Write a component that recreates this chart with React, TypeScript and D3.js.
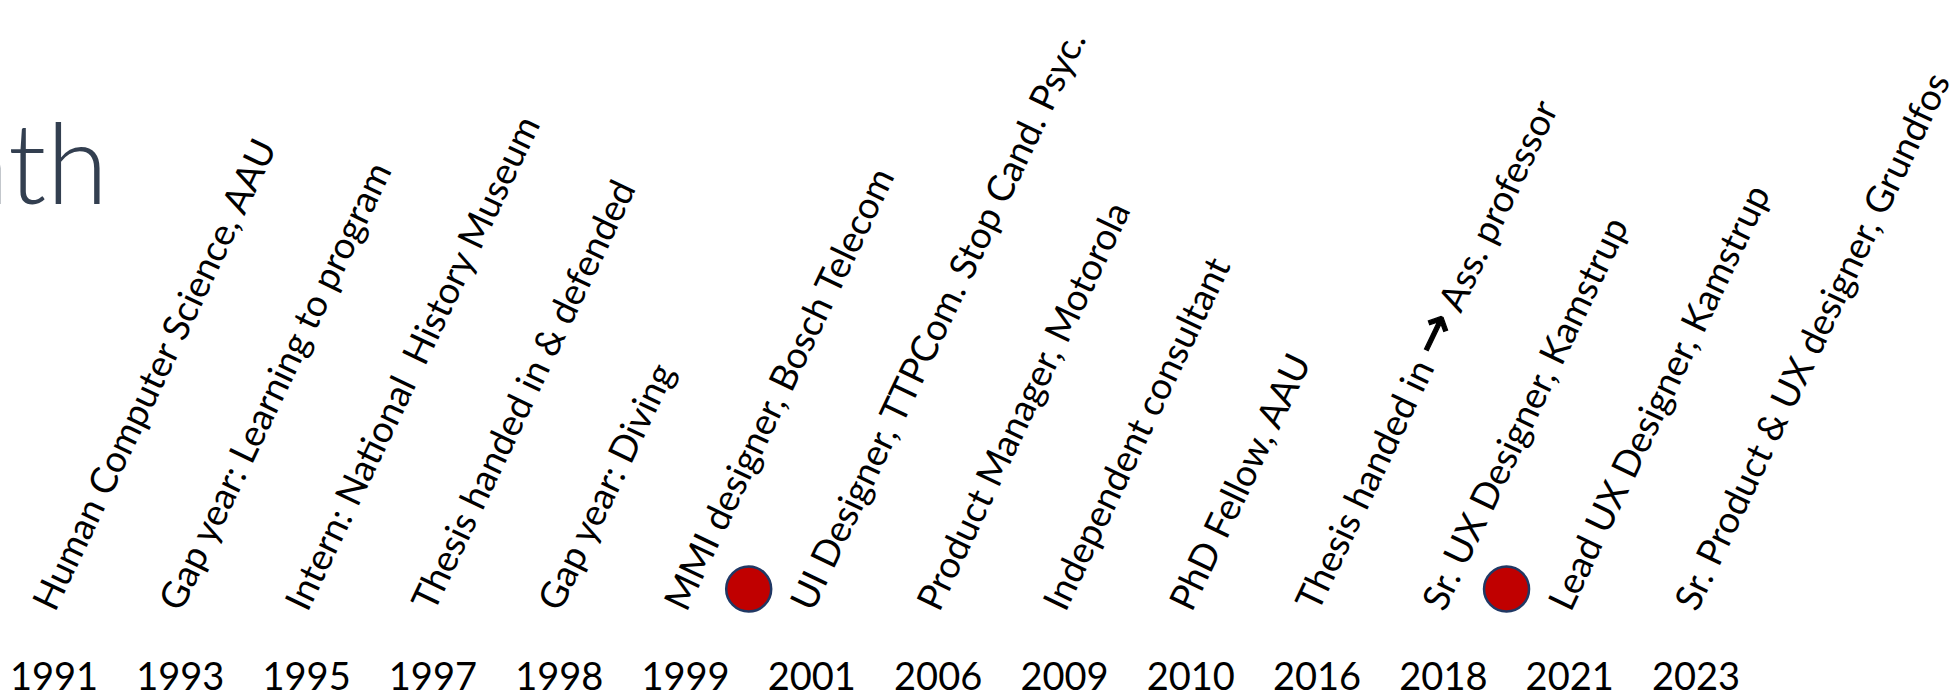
import React from "react";
import * as d3 from "d3";

const years = [
  "1991", "1993", "1995", "1997", "1998", "1999", "2001",
  "2006", "2009", "2010", "2016", "2018", "2021", "2023",
];

const roles = [
  "Human Computer Science, AAU",
  "Gap year: Learning to program",
  "Intern: National  History Museum",
  "Thesis handed in & defended",
  "Gap year: Diving",
  "MMI designer, Bosch Telecom",
  "UI Designer, TTPCom. Stop Cand. Psyc.",
  "Product Manager, Motorola",
  "Independent consultant",
  "PhD Fellow, AAU",
  "Thesis handed in \u2192 Ass. professor",
  "Sr. UX Designer, Kamstrup",
  "Lead UX Designer, Kamstrup",
  "Sr. Product & UX designer, Grundfos",
];

// markers placed between a year and the next one
const markersAfter = ["1999", "2018"];

const titleText = "nth";

const W = 1955;
const H = 697;
const FONT = "Lato, 'Open Sans', sans-serif";
const ARROW = "\u2192";

function renderRole(r: string) {
  if (!r.includes(ARROW)) return r;
  const [a, b] = r.split(ARROW);
  return (
    <>
      {a}
      <tspan fontFamily="'DejaVu Sans', sans-serif" fontSize={50} stroke="#000" strokeWidth={1.2}>
        {ARROW}
      </tspan>
      {b}
    </>
  );
}

export default function App() {
  const x = d3.scalePoint<string>().domain(years).range([54, 1696]);
  const step = x.step();

  return (
    <svg
      width={W}
      height={H}
      viewBox={`0 0 ${W} ${H}`}
      style={{ position: "absolute", left: 0, top: 0, background: "#ffffff" }}
    >
      <text
        x={108}
        y={204}
        textAnchor="end"
        fontFamily={FONT}
        fontWeight={300}
        fontSize={112}
        fill="#333F50"
      >
        {titleText}
      </text>

      {roles.map((r, i) => (
        <text
          key={"r" + i}
          transform={`translate(${(x(years[i]) as number) + 1},613) rotate(-64.5)`}
          fontFamily={FONT}
          fontSize={37}
          fill="#000000"
          style={{ whiteSpace: "pre" }}
        >
          {renderRole(r)}
        </text>
      ))}

      {years.map((y) => (
        <text
          key={"y" + y}
          x={x(y) as number}
          y={690}
          textAnchor="middle"
          fontFamily={FONT}
          fontSize={38}
          fill="#000000"
        >
          {y}
        </text>
      ))}

      {markersAfter.map((m) => (
        <circle
          key={"m" + m}
          cx={(x(m) as number) + step / 2}
          cy={589}
          r={22.5}
          fill="#C00000"
          stroke="#203864"
          strokeWidth={2.5}
        />
      ))}
    </svg>
  );
}
